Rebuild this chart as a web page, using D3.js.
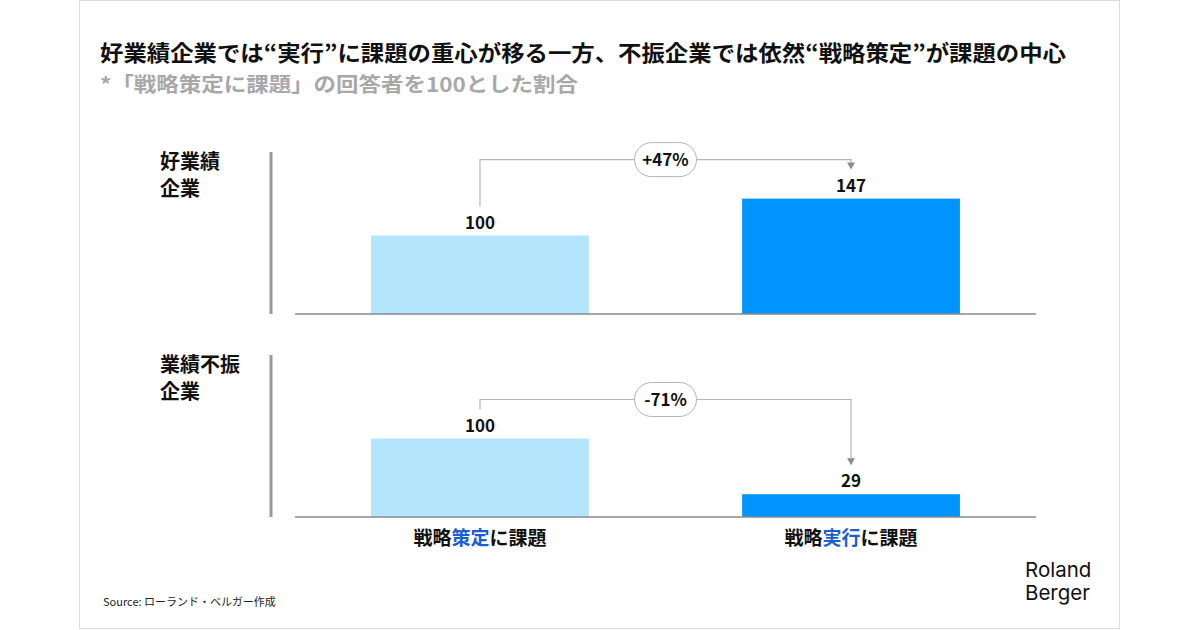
<!DOCTYPE html>
<html>
<head>
<meta charset="utf-8">
<script src="https://cdn.jsdelivr.net/npm/d3@7"></script>
<style>
  body { margin: 0; background: #fff; }
  svg text { font-family: "Noto Sans CJK JP", "Noto Sans", sans-serif; }
</style>
</head>
<body>
<svg id="chart" width="1200" height="630"></svg>
<script>
// chart data
const categories = ['戦略策定に課題', '戦略実行に課題'];
const categoryParts = [['戦略', '策定', 'に課題'], ['戦略', '実行', 'に課題']];
const groupLabels = [['好業績', '企業'], ['業績不振', '企業']];
const goodValues = [100, 147];
const poorValues = [100, 29];
const changeLabels = ['+47%', '-71%'];

const titleText = '好業績企業では“実行”に課題の重心が移る一方、不振企業では依然“戦略策定”が課題の中心';
const subtitleText = '*「戦略策定に課題」の回答者を100とした割合';
const sourceText = 'Source: ローランド・ベルガー作成';

const LIGHT = '#b3e5fc', DARK = '#0094fe', ACCENT = '#1b5fcf';

const svg = d3.select('#chart');

// card frame
svg.append('rect')
    .attr('x', 79.5).attr('y', 0.5)
    .attr('width', 1040).attr('height', 628)
    .attr('fill', '#fff').attr('stroke', '#dcdcdc');

// title + subtitle
svg.append('text')
    .attr('x', 100).attr('y', 61)
    .attr('font-size', 22).attr('font-weight', 700).attr('fill', '#111')
    .attr('textLength', 966).attr('lengthAdjust', 'spacingAndGlyphs')
    .text(titleText);

svg.append('text')
    .attr('x', 100).attr('y', 92)
    .attr('font-size', 20).attr('font-weight', 700).attr('fill', '#a8a8a8')
    .attr('textLength', 478).attr('lengthAdjust', 'spacingAndGlyphs')
    .text(subtitleText);

// shared x scale
const xScale = d3.scaleBand()
    .domain(categories)
    .range([295, 1036])
    .paddingInner(0.413)
    .paddingOuter(0.205);

const panels = [
    {values: goodValues, label: groupLabels[0], change: changeLabels[0], base: 314, sepTop: 152},
    {values: poorValues, label: groupLabels[1], change: changeLabels[1], base: 517, sepTop: 355}
];

panels.forEach(p => {
    const yScale = d3.scaleLinear()
        .domain([0, 150])
        .range([p.base, p.base - 117.75]);

    const g = svg.append('g');

    // group label
    const lbl = g.append('text')
        .attr('x', 160)
        .attr('y', p.sepTop + 17)
        .attr('font-size', 20).attr('font-weight', 700).attr('fill', '#111');
    lbl.selectAll('tspan')
        .data(p.label)
        .join('tspan')
        .attr('x', 160)
        .attr('dy', (d, i) => i === 0 ? 0 : 27)
        .text(d => d);

    // vertical separator
    g.append('line')
        .attr('x1', 271).attr('x2', 271)
        .attr('y1', p.sepTop).attr('y2', p.base)
        .attr('stroke', '#999').attr('stroke-width', 3);

    // bars
    g.selectAll('rect.bar')
        .data(p.values)
        .join('rect')
        .attr('class', 'bar')
        .attr('x', (d, i) => xScale(categories[i]))
        .attr('y', d => yScale(d))
        .attr('width', xScale.bandwidth())
        .attr('height', d => p.base - yScale(d))
        .attr('fill', (d, i) => i === 0 ? LIGHT : DARK);

    // baseline
    g.append('line')
        .attr('x1', xScale.range()[0]).attr('x2', xScale.range()[1])
        .attr('y1', p.base).attr('y2', p.base)
        .attr('stroke', '#888').attr('stroke-width', 1.5);

    // value labels
    g.selectAll('text.val')
        .data(p.values)
        .join('text')
        .attr('class', 'val')
        .attr('x', (d, i) => xScale(categories[i]) + xScale.bandwidth() / 2)
        .attr('y', d => yScale(d) - 7)
        .attr('text-anchor', 'middle')
        .attr('font-size', 17).attr('font-weight', 700).attr('fill', '#111')
        .text(d => d);

    // change connector
    const cx0 = xScale(categories[0]) + xScale.bandwidth() / 2;
    const cx1 = xScale(categories[1]) + xScale.bandwidth() / 2;
    const lineY = yScale(d3.max(p.values)) - 39;
    const end0 = yScale(p.values[0]) - 29;
    const end1 = yScale(p.values[1]) - 29;

    g.append('path')
        .attr('d', `M${cx0},${end0}V${lineY}H${cx1}V${end1 - 6}`)
        .attr('fill', 'none').attr('stroke', '#b5b5b5').attr('stroke-width', 1.2);
    g.append('path')
        .attr('d', `M${cx1 - 4},${end1 - 7}L${cx1 + 4},${end1 - 7}L${cx1},${end1}Z`)
        .attr('fill', '#8c8c8c');

    const mid = (cx0 + cx1) / 2;
    g.append('rect')
        .attr('x', mid - 31).attr('y', lineY - 17)
        .attr('width', 62).attr('height', 34).attr('rx', 17)
        .attr('fill', '#fff').attr('stroke', '#b5b5b5').attr('stroke-width', 1);
    g.append('text')
        .attr('x', mid).attr('y', lineY + 6)
        .attr('text-anchor', 'middle')
        .attr('font-size', 17).attr('font-weight', 700).attr('fill', '#111')
        .text(p.change);
});

// category labels with highlighted part
categoryParts.forEach((parts, i) => {
    const t = svg.append('text')
        .attr('x', xScale(categories[i]) + xScale.bandwidth() / 2)
        .attr('y', 545)
        .attr('text-anchor', 'middle')
        .attr('font-size', 19).attr('font-weight', 700);
    t.selectAll('tspan')
        .data(parts)
        .join('tspan')
        .attr('fill', (d, j) => j === 1 ? ACCENT : '#111')
        .text(d => d);
});

// source + logo
svg.append('text')
    .attr('x', 103).attr('y', 606)
    .attr('font-size', 11).attr('fill', '#222')
    .text(sourceText);

svg.selectAll('text.logo')
    .data(['Roland', 'Berger'])
    .join('text')
    .attr('class', 'logo')
    .attr('x', 1025)
    .attr('y', (d, i) => 577 + i * 23)
    .style('font-family', 'Inter, Lato, sans-serif')
    .attr('font-size', 20.5).attr('fill', '#111')
    .text(d => d);
</script>
</body>
</html>
